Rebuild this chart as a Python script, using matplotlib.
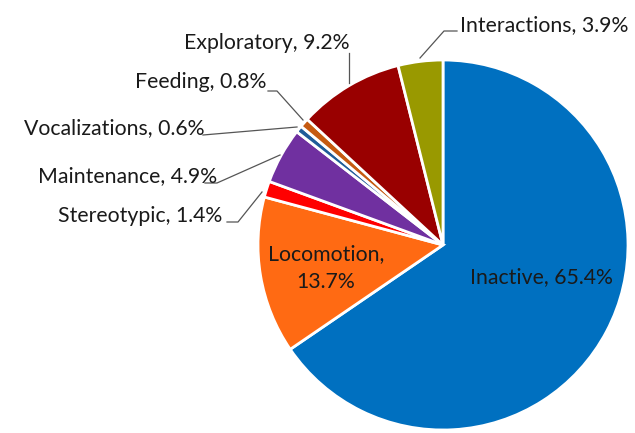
import matplotlib
matplotlib.use("Agg")
import matplotlib.pyplot as plt

categories = ["Inactive", "Locomotion", "Stereotypic", "Maintenance",
              "Vocalizations", "Feeding", "Exploratory", "Interactions"]
values = [65.4, 13.7, 1.4, 4.9, 0.6, 0.8, 9.2, 3.9]
colors = ["#0070C0", "#FF6A13", "#FF0000", "#7030A0",
          "#1F5C99", "#C55A11", "#990000", "#999900"]

W, H = 635, 433
fig = plt.figure(figsize=(6.35, 4.33), dpi=100)
ax = fig.add_axes([0, 0, 1, 1])

cx, cy, r = 443, H - 245, 185
ax.pie(values, colors=colors, startangle=90, counterclock=False,
       center=(cx, cy), radius=r, frame=True,
       wedgeprops=dict(edgecolor="white", linewidth=2))
ax.set_xlim(0, W)
ax.set_ylim(0, H)
ax.set_aspect("equal")
ax.axis("off")

font = dict(family=["Lato", "DejaVu Sans"], fontsize=15.3, color="#1a1a1a")

def lbl(i):
    return f"{categories[i]}, {values[i]}%"

def Y(y):
    return H - y

# inside labels
ax.text(326, Y(268), f"{categories[1]},\n{values[1]}%", ha="center", va="center",
        linespacing=1.55, **font)
ax.text(541, Y(277), lbl(0), ha="center", va="center", **font)

# outside labels
outs = [
    (7, 460, 25, "left", [(457, 31), (444, 31), (420, 58)]),
    (6, 350, 43, "right", [(349, 53), (349, 83)]),
    (5, 266, 82, "right", [(268, 91), (277, 91), (303, 120)]),
    (4, 205, 128, "right", [(203, 135), (297, 127)]),
    (3, 217, 176, "right", [(205, 183), (217, 183), (280, 155)]),
    (2, 222, 216, "right", [(227, 222), (238, 222), (262, 192)]),
]
for i, x, y, ha, pts in outs:
    ax.text(x, Y(y), lbl(i), ha=ha, va="center", **font)
    ax.plot([p[0] for p in pts], [Y(p[1]) for p in pts], color="#555555", lw=0.9)

fig.savefig("out.png", dpi=100, facecolor="white")
